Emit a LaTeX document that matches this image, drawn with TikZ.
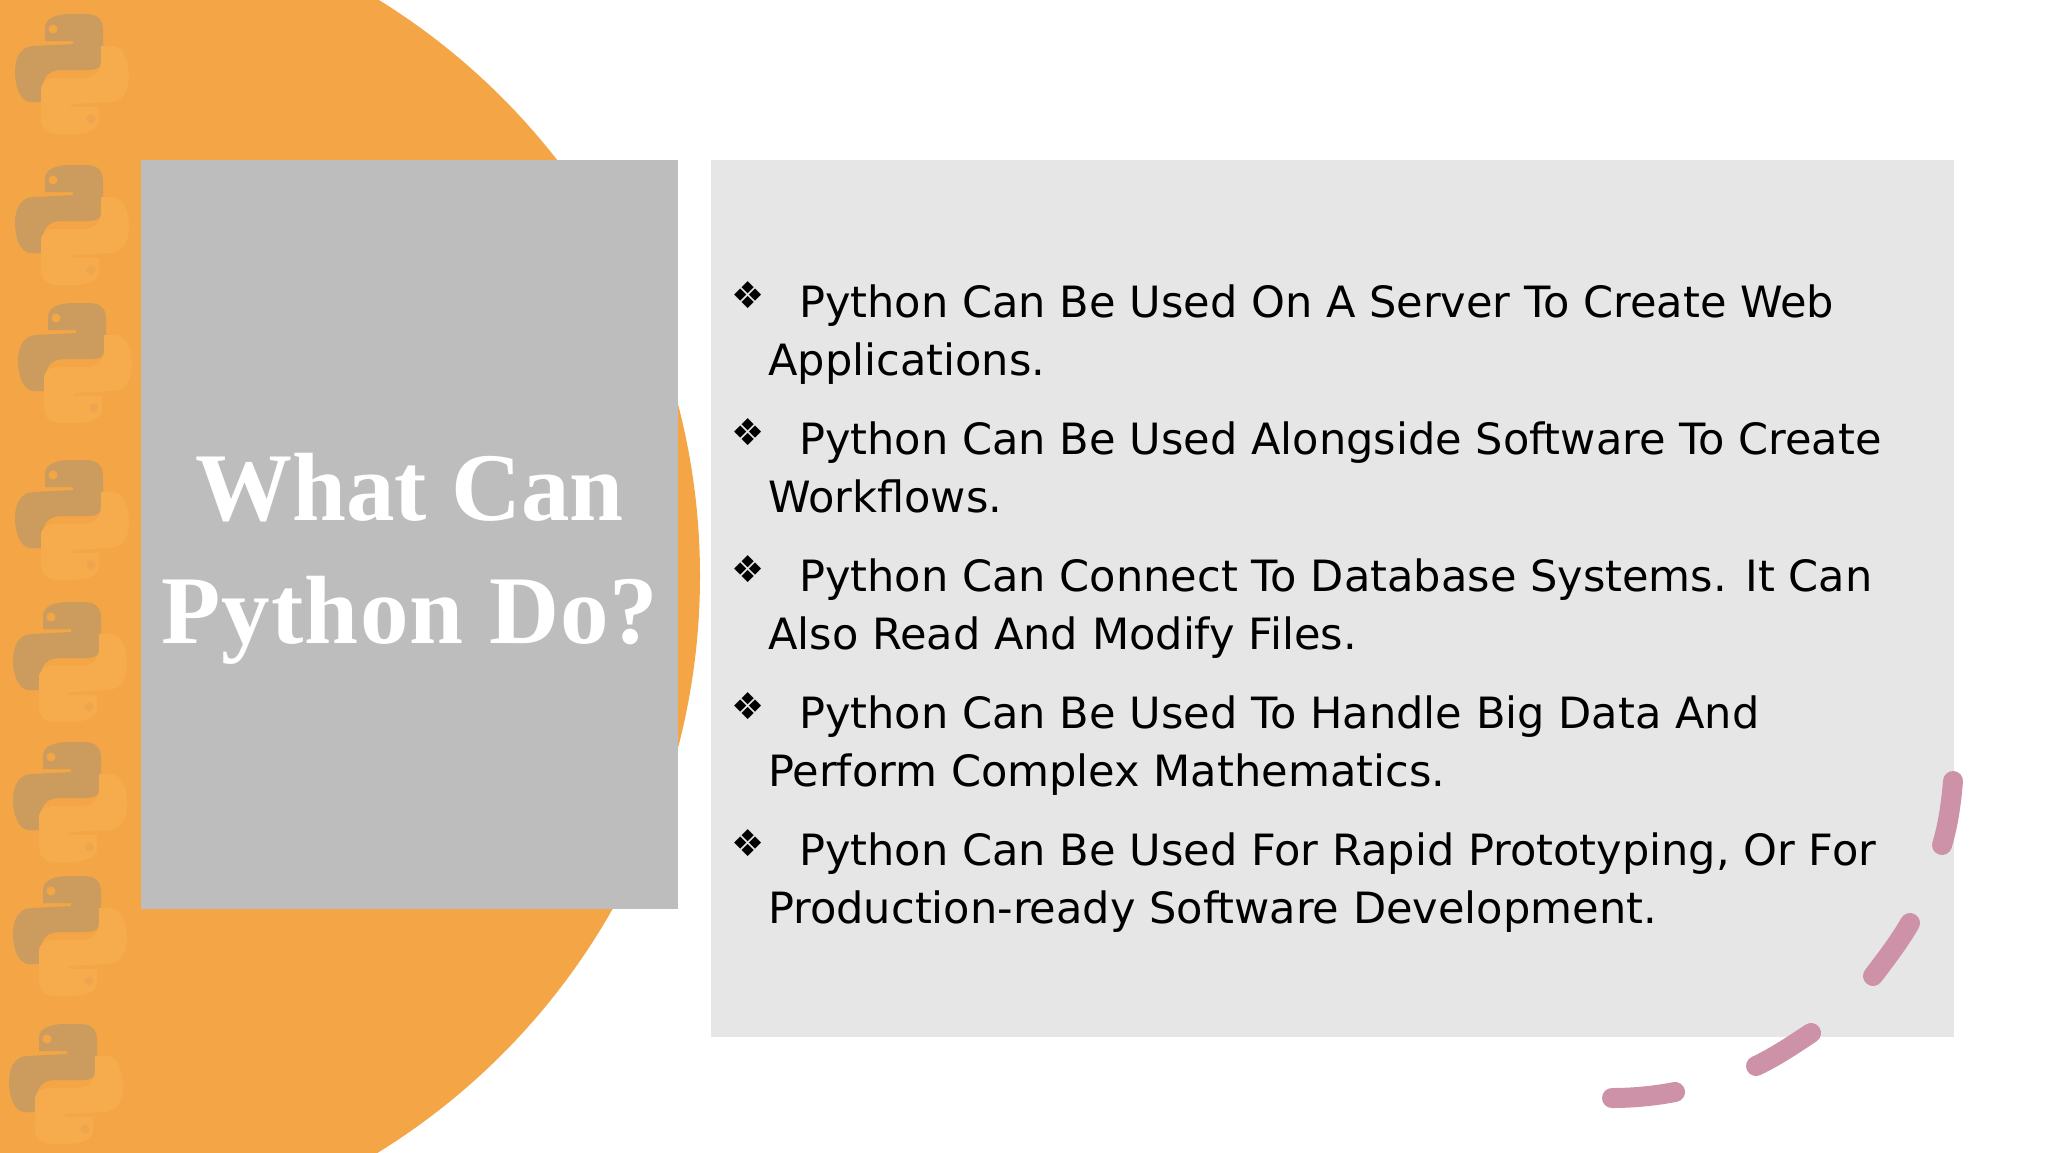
\documentclass[tikz,border=0pt]{standalone}
\usepackage{fontspec}
\setmainfont{DejaVu Sans}
\newfontfamily\titlefont{Liberation Serif}
\newfontfamily\titlefontwide[LetterSpace=1.2]{Liberation Serif}
\tikzset{
  x=1pt,y=-1pt,
  panel/.style={draw=none,inner sep=0pt},
  body/.style={anchor=base west,inner sep=0pt,text=black,font=\fontsize{43.1}{50}\selectfont},
  bulletmark/.style={anchor=center,inner sep=0pt,text=black,font=\fontsize{37}{40}\selectfont},
  headline/.style={anchor=base,inner sep=0pt,text=white},
  swoosh/.style={draw=dashpink,line width=20pt,line cap=round},
  pics/snake/.style={code={
    \def\snakepath{(-27,-46) .. controls (-27,-55) and (-18,-60) .. (0,-60)
      -- (14,-60) .. controls (26,-60) and (31,-54) .. (31,-44)
      -- (31,-16) .. controls (31,-8) and (26,-4) .. (16,-4)
      -- (-10,-4) .. controls (-24,-4) and (-29,4) .. (-29,14)
      -- (-29,28) -- (-42,28) .. controls (-52,27) and (-57,12) .. (-57,-2)
      .. controls (-57,-18) and (-50,-28) .. (-38,-28)
      -- (1,-30) -- (1,-33) -- (-27,-33) -- cycle}
    \fill[snakedark] \snakepath;
    \fill[orangebg] (-19,-45) circle (4.5);
    \begin{scope}[rotate=180]
      \fill[snakelight] \snakepath;
      \fill[orangelt] (-19,-45) circle (4.5);
    \end{scope}
  }}
}
\definecolor{orangebg}{HTML}{F4A546}
\definecolor{orangelt}{HTML}{EDA64E}
\definecolor{snakedark}{HTML}{CC9C5E}
\definecolor{snakelight}{HTML}{F6AC4C}
\definecolor{graybox}{HTML}{BDBDBD}
\definecolor{lightpanel}{HTML}{E6E6E6}
\definecolor{dashpink}{HTML}{CE92A8}
\begin{document}
\begin{tikzpicture}
\useasboundingbox (0,0) rectangle (2048,1152);
\fill[white] (0,0) rectangle (2048,1152);
\begin{scope}
  \clip (0,0) rectangle (2048,1152);
  \fill[orangebg] (23,576) circle (677);
\end{scope}
\foreach \cx/\cy [count=\i] in {72/74,72/225,75/363,72/520,70/662,70/802,70/936,66/1084}
  \pic (logo\i) at (\cx,\cy) {snake};
\node[panel,fill=graybox,minimum width=537pt,minimum height=749pt,anchor=north west] (titlebox) at (141,160) {};
\node[panel,fill=lightpanel,minimum width=1243pt,minimum height=877pt,anchor=north west] (textbox) at (711,160) {};
\node[headline,font=\titlefont\bfseries\fontsize{97}{100}\selectfont] (t1) at (409.5,520) {What Can};
\node[headline,font=\titlefontwide\bfseries\fontsize{97}{100}\selectfont] (t2) at (410,643) {Python Do?};
\foreach \y/\a/\b [count=\i] in {
  317/{Python Can Be Used On A Server To Create Web}/{Applications.},
  454/{Python Can Be Used Alongside Software To Create}/{Workflows.},
  591/{Python Can Connect To Database Systems. It Can}/{Also Read And Modify Files.},
  728/{Python Can Be Used To Handle Big Data And}/{Perform Complex Mathematics.},
  865/{Python Can Be Used For Rapid Prototyping, Or For}/{Production-ready Software Development.}}{
  \node[bulletmark] (b\i) at (748,\y-22) {❖};
  \node[body] (la\i) at (799,\y) {\a};
  \node[body] (lb\i) at (768,\y+58) {\b};
}
\coordinate (d1a) at (1953,781); \coordinate (d1b) at (1942,845);
\coordinate (d2a) at (1910,923); \coordinate (d2b) at (1873,976);
\coordinate (d3a) at (1811,1033); \coordinate (d3b) at (1756,1066);
\coordinate (d4a) at (1675,1092); \coordinate (d4b) at (1612,1098);
\draw[swoosh] (d1a) .. controls (1951,805) and (1948,825) .. (d1b);
\draw[swoosh] (d2a) .. controls (1899,942) and (1886,959) .. (d2b);
\draw[swoosh] (d3a) .. controls (1793,1045) and (1775,1057) .. (d3b);
\draw[swoosh] (d4a) .. controls (1654,1096) and (1633,1098) .. (d4b);
\end{tikzpicture}
\end{document}
